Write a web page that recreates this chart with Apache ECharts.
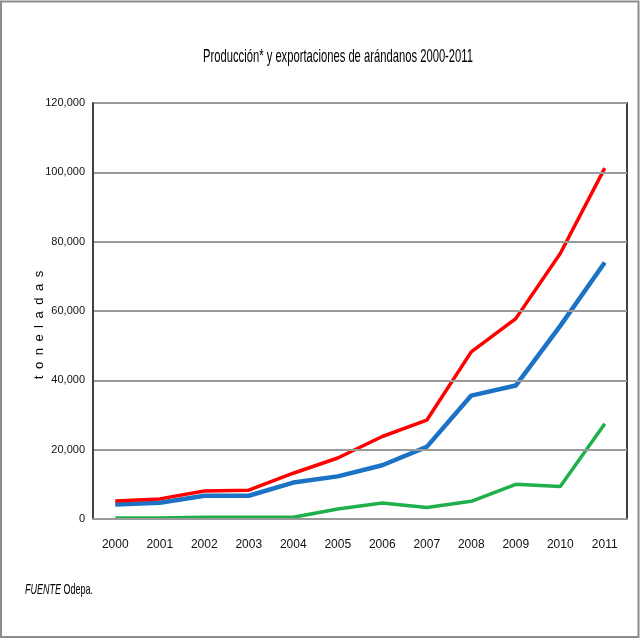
<!DOCTYPE html>
<html>
<head>
<meta charset="utf-8">
<script src="https://cdn.jsdelivr.net/npm/echarts@6/dist/echarts.min.js"></script>
<style>html,body{margin:0;padding:0;background:#fff;}#c{width:640px;height:640px;}</style>
</head>
<body>
<div id="c"></div>
<script>
var years = ['2000','2001','2002','2003','2004','2005','2006','2007','2008','2009','2010','2011'];
var produccion = [5200, 5800, 8100, 8300, 13200, 17600, 23800, 28500, 48200, 57800, 76600, 101200];
var exportaciones = [4200, 4700, 6700, 6700, 10500, 12300, 15500, 20800, 35600, 38500, 55700, 74000];
var otros = [300, 300, 500, 500, 500, 2900, 4600, 3300, 5100, 10000, 9400, 27500];
var yTicks = [0, 20000, 40000, 60000, 80000, 100000, 120000];
var titleText = 'Producción* y exportaciones de arándanos 2000-2011';
var yName = 'toneladas';
var sourceLabel = 'FUENTE';
var sourceText = ' Odepa.';

var FONT = '"Liberation Sans", Arial, sans-serif';
var ctx = document.createElement('canvas').getContext('2d');
ctx.font = '19px "Liberation Sans"';
var titleScale = 270 / ctx.measureText(titleText).width;
ctx.font = 'italic 15px "Liberation Sans"';
var wA = ctx.measureText(sourceLabel).width;
ctx.font = '15px "Liberation Sans"';
var wB = ctx.measureText(sourceText).width;
var srcScale = 68 / (wA + wB);

var chart = echarts.init(document.getElementById('c'));
chart.setOption({
  animation: false,
  backgroundColor: '#fff',
  grid: { left: 93, right: 13, top: 103, bottom: 121, show: true, borderColor: '#000', borderWidth: 1.5, z: 10 },
  xAxis: {
    type: 'category', data: years, boundaryGap: true, z: 11,
    axisLine: { lineStyle: { color: '#999', width: 2 } },
    axisTick: { show: false },
    axisLabel: { fontFamily: FONT, fontSize: 12, color: '#111', margin: 20 }
  },
  yAxis: {
    type: 'value', min: yTicks[0], max: yTicks[yTicks.length - 1], interval: yTicks[1] - yTicks[0], z: 11,
    axisLine: { show: true, lineStyle: { color: '#444', width: 1 } },
    axisTick: { show: false },
    splitLine: { lineStyle: { color: '#999', width: 2 } },
    axisLabel: { fontFamily: FONT, fontSize: 11, color: '#111', margin: 8,
      formatter: function (v) { return v.toLocaleString('en-US'); } }
  },
  graphic: [
    { type: 'rect', shape: { x: 1, y: 1.5, width: 637.5, height: 635.5 }, style: { fill: 'none', stroke: '#8c8c8c', lineWidth: 2 }, z: 100 },
    { type: 'text', x: 338, y: 57, scaleX: titleScale,
      style: { text: titleText, font: '19px "Liberation Sans", Arial, sans-serif', fill: '#000', align: 'center', verticalAlign: 'middle' } },
    { type: 'text', x: 39, y: 325, rotation: Math.PI / 2,
      style: { text: yName.split('').join('\u2002'), font: '13px "Liberation Sans", Arial, sans-serif', fill: '#000', align: 'center', verticalAlign: 'middle' } },
    { type: 'text', x: 25, y: 590, scaleX: srcScale,
      style: { rich: { i: { fontStyle: 'italic', fontFamily: FONT, fontSize: 15, fill: '#000' }, n: { fontFamily: FONT, fontSize: 15, fill: '#000' } },
        text: '{i|' + sourceLabel + '}{n|' + sourceText + '}', verticalAlign: 'middle' } }
  ],
  series: [
    { name: 'otros', type: 'line', data: otros, symbol: 'none', lineStyle: { color: '#1fb04c', width: 3.5 }, itemStyle: { color: '#1fb04c' }, z: 2 },
    { name: 'Exportaciones', type: 'line', data: exportaciones, symbol: 'none', lineStyle: { color: '#1c72c4', width: 4.5 }, itemStyle: { color: '#1c72c4' }, z: 3 },
    { name: 'Producción', type: 'line', data: produccion, symbol: 'none', lineStyle: { color: '#ff0000', width: 3.5 }, itemStyle: { color: '#ff0000' }, z: 4 }
  ]
});
</script>
</body>
</html>
